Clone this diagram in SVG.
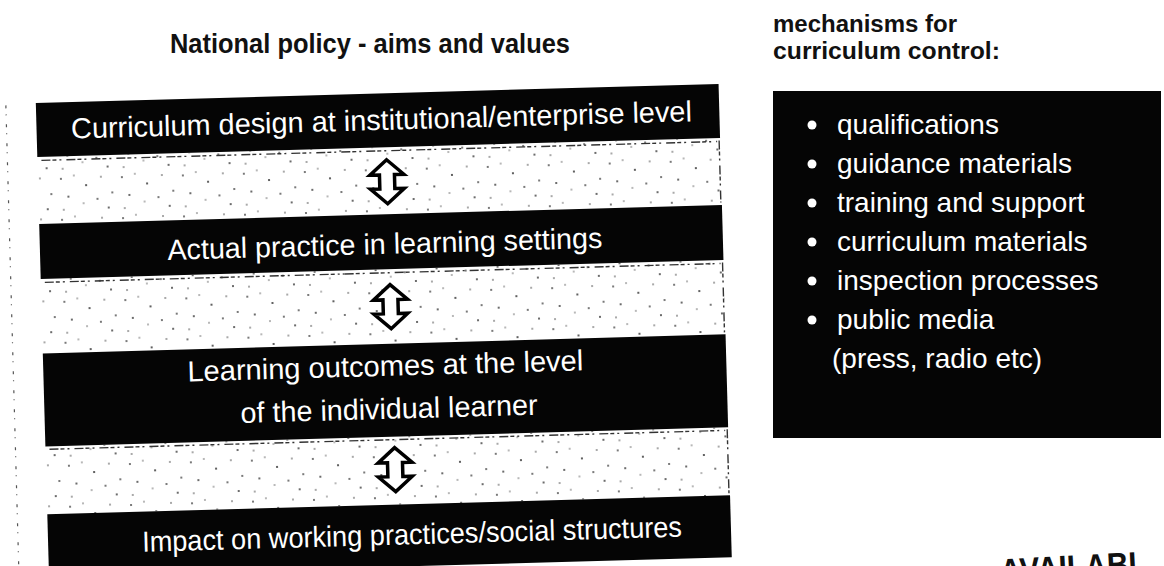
<svg xmlns="http://www.w3.org/2000/svg" width="1164" height="566" viewBox="0 0 1164 566">
<defs>
<style>
.box{fill:#050505}
.bt{fill:#fff;font-family:"Liberation Sans",Arial,sans-serif;font-size:29px}
.hd{fill:#111;font-family:"Liberation Sans",Arial,sans-serif;font-weight:bold}
.it{fill:#fff;font-family:"Liberation Sans",Arial,sans-serif;font-size:28px}
.arrow{fill:#fff;stroke:#000;stroke-width:3.5;stroke-linejoin:miter}
.band{fill:url(#speck)}
.edge{fill:none;stroke:#333;stroke-width:1.4;stroke-dasharray:9 2 4 3 2 5}
.noise{fill:none;stroke:#555;stroke-width:1.2;stroke-dasharray:3 6 1 9}
</style>
<pattern id="speck" width="61" height="41" patternUnits="userSpaceOnUse">
<g fill="#3a3a3a">
<circle cx="4" cy="6" r="0.9"/><circle cx="17" cy="3" r="0.7"/><circle cx="29" cy="13" r="1.1"/>
<circle cx="44" cy="5" r="0.8"/><circle cx="55" cy="21" r="0.9"/><circle cx="11" cy="24" r="1"/>
<circle cx="26" cy="31" r="0.7"/><circle cx="40" cy="27" r="0.9"/><circle cx="6" cy="37" r="0.8"/>
<circle cx="51" cy="36" r="1"/>
</g>
</pattern>
<path id="dbl" d="M0,-22 L17,-7 L7.5,-7 L7.5,7 L17,7 L0,22 L-17,7 L-7.5,7 L-7.5,-7 L-17,-7 Z"/>
</defs>

<text class="hd" x="170" y="53" font-size="28" textLength="400" lengthAdjust="spacingAndGlyphs">National policy - aims and values</text>

<g id="left-stack" transform="rotate(-1.6 380 320)">
  <line class="noise" x1="12" y1="95" x2="12" y2="570"/>
  <g id="bands">
    <rect class="band" x="42" y="147.5" width="683" height="67"/>
    <rect class="band" x="42" y="269.5" width="683" height="74.5"/>
    <rect class="band" x="42" y="437" width="683" height="68"/>
    <path class="edge" d="M46,151 L722,151 M46,273 L722,273 M46,440 L722,440 M724,150 L724,212 M724,272 L724,342 M724,439 L724,503"/>
  </g>
  <g id="node1">
    <rect class="box" x="42" y="93.5" width="683" height="54"/>
    <text class="bt" x="387" y="130" text-anchor="middle" textLength="621" lengthAdjust="spacingAndGlyphs">Curriculum design at institutional/enterprise level</text>
  </g>
  <g id="node2">
    <rect class="box" x="42" y="214.5" width="683" height="55"/>
    <text class="bt" x="387" y="254" text-anchor="middle" textLength="435" lengthAdjust="spacingAndGlyphs">Actual practice in learning settings</text>
  </g>
  <g id="node3">
    <rect class="box" x="42" y="344" width="683" height="93"/>
    <text class="bt" x="384" y="376" text-anchor="middle" textLength="396" lengthAdjust="spacingAndGlyphs">Learning outcomes at the level</text>
    <text class="bt" x="386.5" y="419" text-anchor="middle" textLength="297" lengthAdjust="spacingAndGlyphs">of the individual learner</text>
  </g>
  <g id="node4">
    <rect class="box" x="42" y="505" width="683" height="62"/>
    <text class="bt" x="406" y="545" text-anchor="middle" textLength="540" lengthAdjust="spacingAndGlyphs">Impact on working practices/social structures</text>
  </g>
  <g id="connectors">
    <use href="#dbl" class="arrow" x="391" y="182"/>
    <use href="#dbl" class="arrow" x="391" y="307"/>
    <use href="#dbl" class="arrow" x="391" y="470"/>
  </g>
</g>

<g id="mechanisms">
  <text class="hd" x="773" y="32" font-size="23" textLength="184" lengthAdjust="spacingAndGlyphs">mechanisms for</text>
  <text class="hd" x="773" y="59" font-size="23" textLength="227" lengthAdjust="spacingAndGlyphs">curriculum control:</text>
  <rect class="box" x="773" y="91" width="388" height="347"/>
  <g fill="#fff">
    <circle cx="812" cy="125" r="4.5"/>
    <circle cx="812" cy="164" r="4.5"/>
    <circle cx="812" cy="203" r="4.5"/>
    <circle cx="812" cy="242" r="4.5"/>
    <circle cx="812" cy="281" r="4.5"/>
    <circle cx="812" cy="320" r="4.5"/>
  </g>
  <text class="it" x="837" y="134">qualifications</text>
  <text class="it" x="837" y="173">guidance materials</text>
  <text class="it" x="837" y="212">training and support</text>
  <text class="it" x="837" y="251">curriculum materials</text>
  <text class="it" x="837" y="290">inspection processes</text>
  <text class="it" x="837" y="329">public media</text>
  <text class="it" x="832" y="368">(press, radio etc)</text>
</g>

<text class="hd" x="1000" y="579" font-size="34" textLength="147" lengthAdjust="spacingAndGlyphs" transform="rotate(-3 1070 570)">AVAILABL</text>
</svg>
